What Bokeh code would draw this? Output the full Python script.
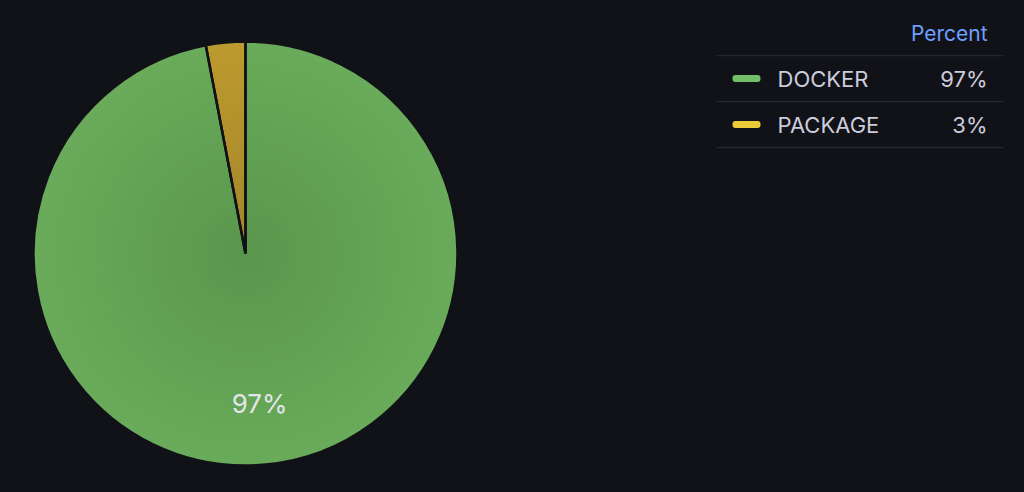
import math
from bokeh.plotting import figure
from bokeh.models import Range1d
from bokeh.core.properties import value
from bokeh.embed import file_html
from bokeh.resources import INLINE

# ---- data ----
categories = ["DOCKER", "PACKAGE"]
values = [97, 3]
legend_colors = ["#73BF69", "#ECCB3B"]
edge_colors = ["#69AB5A", "#BD9A2F"]
center_colors = ["#5A974D", "#A3862A"]
header = "Percent"

W, H = 1024, 492
BG = "#111217"
FONT = "Inter"

p = figure(width=W, height=H, output_backend="svg", toolbar_location=None,
           x_range=Range1d(0, W), y_range=Range1d(0, H), min_border=0)
p.axis.visible = False
p.grid.visible = False
p.outline_line_color = None
p.background_fill_color = BG
p.border_fill_color = BG

cx, cy, R = 245, H - 253, 212
total = sum(values)
fracs = [v / total for v in values]


def mix(c1, c2, t):
    a = [int(c1[i:i + 2], 16) for i in (1, 3, 5)]
    b = [int(c2[i:i + 2], 16) for i in (1, 3, 5)]
    return "#%02x%02x%02x" % tuple(round(a[k] + (b[k] - a[k]) * t) for k in range(3))


starts, ends = [], []
cum = 0.0
for f in fracs:
    starts.append(math.pi / 2 - cum * 2 * math.pi)
    cum += f
    ends.append(math.pi / 2 - cum * 2 * math.pi)

# gradient rings
N = 30
for i in range(len(values)):
    for k in range(N):
        t = k / (N - 1)
        r = R * (1 - k / N)
        col = mix(edge_colors[i], center_colors[i], t)
        p.wedge(x=cx, y=cy, radius=r, start_angle=starts[i], end_angle=ends[i],
                direction="clock", fill_color=col, line_color=None)

# slice outlines
p.wedge(x=[cx] * len(values), y=[cy] * len(values), radius=R,
        start_angle=starts, end_angle=ends, direction="clock",
        fill_alpha=0, line_color=BG, line_width=2.5)

# slice labels (only large enough slices)
for i, f in enumerate(fracs):
    if f < 0.05:
        continue
    mid = (starts[i] + ends[i]) / 2
    lx = cx + 0.71 * R * math.cos(mid)
    ly = cy + 0.71 * R * math.sin(mid)
    p.text(x=[lx], y=[ly], text=["%d%%" % round(f * 100)], text_align="center",
           text_baseline="middle", text_font=value(FONT), text_font_size="26px",
           text_font_style="normal", text_color="#E4E4EA")

# legend table
lx0, lx1 = 716, 1003
right = 987
p.text(x=[right], y=[H - 33], text=[header], text_align="right", text_baseline="middle",
       text_font=value(FONT), text_font_size="21px", text_font_style="normal",
       text_color="#6E9FFF")
row_h = 46
first_line = 55
lines_y = [H - (first_line + j * row_h) for j in range(len(values) + 1)]
p.segment(x0=[lx0] * len(lines_y), y0=lines_y, x1=[lx1] * len(lines_y), y1=lines_y,
          line_color="#26272D", line_width=1.5)
for i, cat in enumerate(categories):
    ry = H - (first_line + i * row_h + row_h / 2)
    p.rect(x=[746], y=[ry], width=28, height=7, fill_color=legend_colors[i],
           line_color=None, border_radius=3)
    p.text(x=[777], y=[ry], text=[cat], text_align="left", text_baseline="middle",
           text_font=value(FONT), text_font_size="22px", text_color="#CCCCDC")
    p.text(x=[right], y=[ry], text=["%d%%" % round(fracs[i] * 100)], text_align="right",
           text_baseline="middle", text_font=value(FONT), text_font_size="22px",
           text_color="#CCCCDC")

html = file_html(p, INLINE)
html = html.replace("<head>", "<head><style>html,body{background:%s;}</style>" % BG, 1)
open("out.html", "w").write(html)
